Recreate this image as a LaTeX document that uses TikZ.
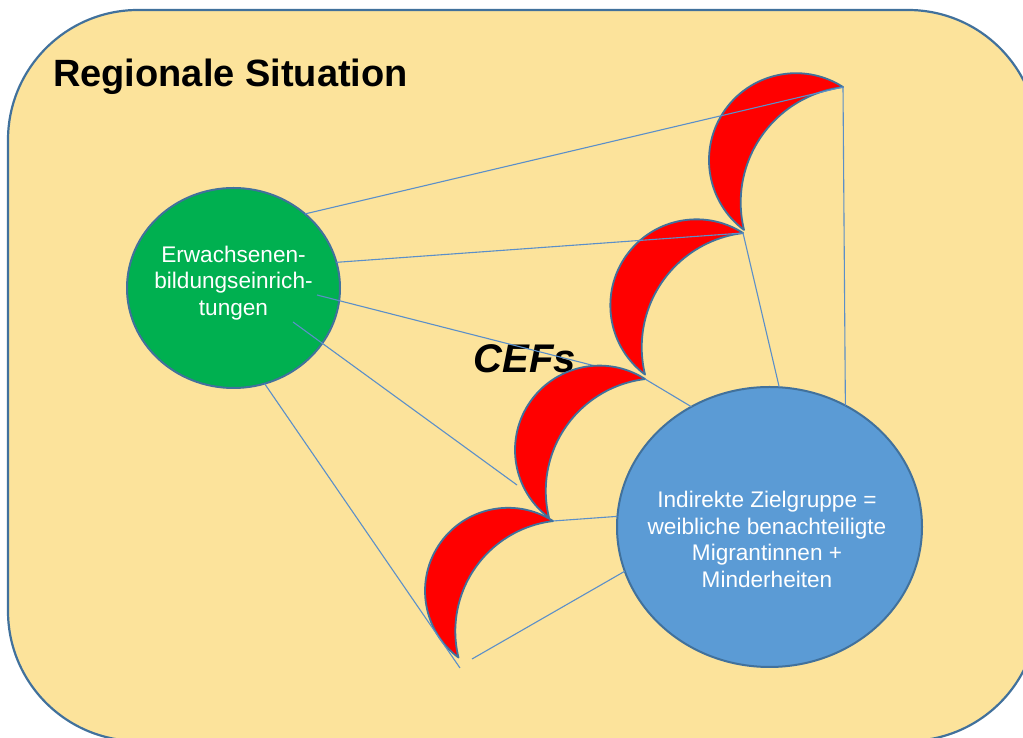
\documentclass[tikz,border=0pt]{standalone}
\usepackage{fontspec}
\setmainfont{Liberation Sans}
\usetikzlibrary{shapes.geometric}
\definecolor{bgyellow}{HTML}{FCE39B}
\definecolor{edgeblue}{HTML}{41719C}
\definecolor{lineblue}{HTML}{5B8FC9}
\definecolor{greenfill}{HTML}{00B050}
\definecolor{bluefill}{HTML}{5B9BD5}
\tikzset{
  bubble/.style={ellipse, draw=edgeblue, line width=2pt, inner sep=0pt, outer sep=0pt},
  link/.style={draw=lineblue, line width=1.1pt},
  whitetext/.style={text=white, align=center, font=\fontsize{22.6}{26.5}\selectfont, inner sep=0pt},
  crescentshape/.style={fill=red, draw=edgeblue, line width=1.8pt, line join=round},
  crescent/.pic={
    \path[crescentshape] (0,0) arc[start angle=57.3, end angle=233.3, radius=87]
      arc[start angle=193.7, end angle=96.9, radius=116.2] -- cycle;
  }
}
\begin{document}
\begin{tikzpicture}[x=1pt,y=1pt]
\useasboundingbox (0,0) rectangle (1023,738);
\begin{scope}
  \clip (0,0) rectangle (1023,738);
  \path[fill=bgyellow, draw=edgeblue, line width=2.2pt, rounded corners=130pt] (8,-3) rectangle (1038,728);
\end{scope}

\node[anchor=base west, inner sep=0pt, font=\bfseries\fontsize{38}{44}\selectfont] (title) at (53,651) {Regionale Situation};

% ellipses
\node[bubble, fill=greenfill, minimum width=213pt, minimum height=200pt] (green) at (233.5,450) {};
\node[bubble, fill=bluefill, minimum width=305pt, minimum height=280pt] (blue) at (769.5,211) {};
\node[whitetext] (greentext) at (233.5,455) {Erwachsenen-\\bildungseinrich-\\tungen};
\node[whitetext] (bluetext) at (767,198.5) {Indirekte Zielgruppe =\\weibliche benachteiligte\\Migrantinnen +\\Minderheiten};

\node[inner sep=0pt, font=\bfseries\itshape\fontsize{40}{48}\selectfont] (cefs) at (525,379) {CEFs};

% crescent tips and free ends
\coordinate (c1t) at (843,651);
\coordinate (c2t) at (743,505);
\coordinate (c3t) at (645,359);
\coordinate (c4t) at (553,217);
\coordinate (g3) at (317,443);
\coordinate (g4) at (293,416);
\coordinate (e3) at (607,369);
\coordinate (e4) at (517,253);
\coordinate (e5) at (460,70);
\coordinate (s9) at (472,79);

% links ending at crescent edges
\draw[link] (g3) -- (e3);
\draw[link] (g4) -- (e4);

% crescents
\pic at (c1t) {crescent};
\pic[scale=0.99] at (c2t) {crescent};
\pic[scale=0.97] at (c3t) {crescent};
\pic[scale=0.955] at (c4t) {crescent};

% links on top
\draw[link] (green.46.7) -- (c1t);
\draw[link] (green.14.2) -- (c2t);
\draw[link] (green.-72.8) -- (e5);
\draw[link] (c1t) -- (blue.58.9);
\draw[link] (c2t) -- (blue.86.5);
\draw[link] (c3t) -- (blue.123.1);
\draw[link] (c4t) -- (blue.176.2);
\draw[link] (s9) -- (blue.197.4);
\end{tikzpicture}
\end{document}
